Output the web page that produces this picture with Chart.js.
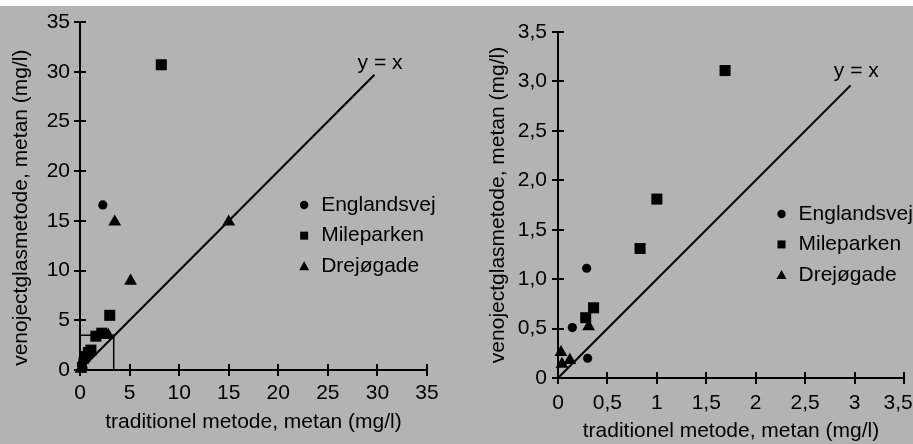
<!DOCTYPE html>
<html>
<head>
<meta charset="UTF-8">
<title>Metan: venojectglasmetode mod traditionel metode</title>
<script src="https://cdn.jsdelivr.net/npm/chart.js@4.4.1/dist/chart.umd.min.js"></script>
<style>
body { margin: 0; background: white; }
#panel {
  position: absolute; left: 0; top: 6px;
  width: 913px; height: 438px;
  background: #b3b3b3;
}
canvas { position: absolute; top: 0; }
</style>
</head>
<body>
<div id="panel">
<canvas id="left" width="456" height="438" style="left:0"></canvas>
<canvas id="right" width="457" height="438" style="left:456px"></canvas>
</div>
<script>
// series names and marker shapes
var seriesNames = ["Englandsvej", "Mileparken", "Drejøgade"];
var seriesShapes = ["circle", "rect", "triangle"];

// left panel, 0-35 mg/l, [traditionel, venojectglas]
var englandsvejFull = [[2.3, 16.6], [0.15, 0.5], [0.3, 1.1], [0.3, 0.2]];
var mileparkenFull = [[8.2, 30.7], [3.0, 5.5], [2.2, 3.7], [1.6, 3.4], [1.1, 2.0], [0.85, 1.75], [0.5, 1.35]];
var drejogadeFull = [[15, 14.9], [3.5, 14.9], [5.1, 8.95], [2.85, 3.5], [0.3, 1.0], [0.1, 0.1]];

// right panel, 0-3.5 mg/l
var englandsvejZoom = [[0.29, 1.11], [0.145, 0.51], [0.3, 0.2]];
var mileparkenZoom = [[1.69, 3.11], [1.0, 1.81], [0.83, 1.31], [0.36, 0.71], [0.28, 0.61]];
var drejogadeZoom = [[0.31, 0.52], [0.03, 0.26], [0.12, 0.18], [0.04, 0.14]];

// y = x line ends, and the inset box on the left panel
var lineFull = [0, 29.7];
var lineZoom = [0, 2.96];
var boxX = [0, 3.4, 3.4];
var boxY = [3.5, 3.5, 0];

// tick values and labels
var ticksFull = [0, 5, 10, 15, 20, 25, 30, 35];
var ticksZoom = [0, 0.5, 1, 1.5, 2, 2.5, 3, 3.5];
var xLabelsZoom = ["0", "0,5", "1", "1,5", "2", "2,5", "3", "3,5  "];
var yLabelsZoom = ["0", "0,5", "1,0", "1,5", "2,0", "2,5", "3,0", "3,5"];

var xTitle = "traditionel metode, metan (mg/l)";
var yTitle = "venojectglasmetode, metan (mg/l)";

var FONT = '"Liberation Sans", Arial, sans-serif';
var textFont = {family: FONT, size: 21, weight: "normal"};
Chart.defaults.font.family = FONT;
Chart.defaults.font.size = 21;
Chart.defaults.color = "black";

function pts(arr) {
    return arr.map(function(p) { return {x: p[0], y: p[1]}; });
}

function markerSet(i, arr) {
    var radius = [4.6, 7.8, 7.4][i];
    return {
        label: seriesNames[i],
        data: pts(arr),
        pointStyle: seriesShapes[i],
        pointRadius: radius,
        pointBackgroundColor: "black",
        pointBorderColor: "black",
        pointBorderWidth: 0,
        showLine: false,
        clip: false,
        order: 3 - i
    };
}

function lineSet(xs, ys, width) {
    var d = [];
    for (var i = 0; i < xs.length; i++) d.push({x: xs[i], y: ys[i]});
    return {
        data: d, showLine: true, borderColor: "black", borderWidth: width,
        pointRadius: 0, clip: false, order: 5
    };
}

// crossing tick marks, y = x label and the legend
var decor = {
    id: "decor",
    afterDatasetsDraw: function(chart, args, opts) {
        var ctx = chart.ctx, a = chart.chartArea;
        var xs = chart.scales.x, ys = chart.scales.y;
        ctx.save();
        ctx.strokeStyle = "black";
        ctx.lineWidth = 2;
        ctx.beginPath();
        xs.ticks.forEach(function(t) {
            var px = Math.round(xs.getPixelForValue(t.value));
            ctx.moveTo(px, a.bottom - 6);
            ctx.lineTo(px, a.bottom + 6);
        });
        ys.ticks.forEach(function(t) {
            var py = Math.round(ys.getPixelForValue(t.value));
            ctx.moveTo(a.left - 6, py);
            ctx.lineTo(a.left + 6, py);
        });
        ctx.stroke();

        ctx.fillStyle = "black";
        ctx.font = "21px " + FONT;
        ctx.textBaseline = "middle";
        ctx.textAlign = "left";
        ctx.fillText("y = x", xs.getPixelForValue(opts.labelAt[0]), ys.getPixelForValue(opts.labelAt[1]));

        // legend
        var w = a.right - a.left, h = a.bottom - a.top;
        var rows = [0.526, 0.614, 0.702];
        var mx = a.left + 0.646 * w;
        for (var i = 0; i < seriesNames.length; i++) {
            var my = a.top + rows[i] * h;
            ctx.beginPath();
            if (seriesShapes[i] === "circle") {
                ctx.arc(mx, my, 4.2, 0, Math.PI * 2);
            } else if (seriesShapes[i] === "rect") {
                ctx.rect(mx - 4, my - 4, 8, 8);
            } else {
                ctx.moveTo(mx, my - 5);
                ctx.lineTo(mx + 5, my + 4);
                ctx.lineTo(mx - 5, my + 4);
                ctx.closePath();
            }
            ctx.fill();
            ctx.fillText(seriesNames[i], mx + 17, my);
        }
        ctx.restore();
    }
};

function makeChart(id, cfg) {
    return new Chart(document.getElementById(id), {
        type: "scatter",
        data: {datasets: cfg.datasets},
        plugins: [decor],
        options: {
            responsive: false,
            animation: false,
            events: [],
            layout: {padding: {left: 0, top: cfg.top, right: cfg.right, bottom: 0}},
            plugins: {legend: {display: false}, tooltip: {enabled: false}, decor: {labelAt: cfg.labelAt}},
            scales: {
                x: {
                    type: "linear", min: 0, max: cfg.max,
                    grid: {display: false, drawTicks: false},
                    border: {display: true, color: "black", width: 2},
                    afterBuildTicks: function(s) { s.ticks = cfg.ticks.map(function(v) { return {value: v}; }); },
                    ticks: {
                        font: textFont, color: "black",
                        padding: cfg.xPad, maxRotation: 0, autoSkip: false,
                        callback: function(v, i) { return cfg.xLabels[i]; }
                    },
                    title: {display: true, text: xTitle, font: textFont, color: "black",
                            padding: {top: 0, bottom: cfg.xTitlePad}},
                    afterFit: function(s) {
                        s.height = cfg.xHeight;
                        s.paddingLeft = 0; s.paddingRight = 0;
                    }
                },
                y: {
                    type: "linear", min: 0, max: cfg.max,
                    grid: {display: false, drawTicks: false},
                    border: {display: true, color: "black", width: 2},
                    afterBuildTicks: function(s) { s.ticks = cfg.ticks.map(function(v) { return {value: v}; }); },
                    ticks: {
                        font: textFont, color: "black",
                        padding: cfg.yPad, autoSkip: false,
                        callback: function(v, i) { return cfg.yLabels[i]; }
                    },
                    title: {display: true, text: cfg.yTitle, font: textFont, color: "black",
                            padding: {top: cfg.yTitlePad, bottom: 0}},
                    afterFit: function(s) {
                        s.width = cfg.yWidth;
                        s.paddingTop = 0; s.paddingBottom = 0;
                    }
                }
            }
        }
    });
}

var fullLabels = ticksFull.map(String);

makeChart("left", {
    datasets: [
        markerSet(0, englandsvejFull),
        markerSet(1, mileparkenFull),
        markerSet(2, drejogadeFull),
        lineSet(lineFull, lineFull, 2),
        lineSet(boxX, boxY, 1.5)
    ],
    max: 35, ticks: ticksFull, xLabels: fullLabels, yLabels: fullLabels,
    top: 16, right: 29, xHeight: 74, yWidth: 80,
    xPad: 11, yPad: 10, xTitlePad: 9, yTitlePad: 9,
    yTitle: yTitle + "    ",
    labelAt: [28.0, 30.9]
});

makeChart("right", {
    datasets: [
        markerSet(0, englandsvejZoom),
        markerSet(1, mileparkenZoom),
        markerSet(2, drejogadeZoom),
        lineSet(lineZoom, lineZoom, 2)
    ],
    max: 3.5, ticks: ticksZoom, xLabels: xLabelsZoom, yLabels: yLabelsZoom,
    top: 26, right: 9, xHeight: 66, yWidth: 102,
    xPad: 13, yPad: 11, xTitlePad: 0, yTitlePad: 30,
    yTitle: yTitle,
    labelAt: [2.79, 3.1]
});
</script>
</body>
</html>
